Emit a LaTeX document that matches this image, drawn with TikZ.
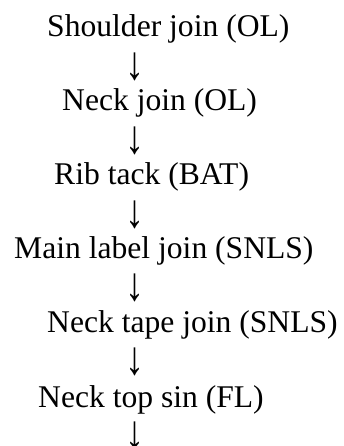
\documentclass[tikz,border=0pt]{standalone}
\usepackage{fontspec}
\setmainfont{Liberation Serif}
\begin{document}
\begin{tikzpicture}[x=1pt,y=-1pt,
  lbl/.style={anchor=base west,inner sep=0pt,font=\fontsize{31.6}{37}\selectfont},
  arr/.style={anchor=base,inner sep=0pt,font=\fontsize{31.6}{37}\selectfont}]
\useasboundingbox (0,0) rectangle (343,446);
\newcommand{\dnarrow}{\scalebox{1.2}[1.5]{↓}}
\node[lbl] (s1) at (47,37) {Shoulder join (OL)};
\node[arr] (a1) at (135,80) {\dnarrow};
\node[lbl] (s2) at (62,110.5) {Neck join (OL)};
\node[arr] (a2) at (135,153.5) {\dnarrow};
\node[lbl] (s3) at (54,184.5) {Rib tack (BAT)};
\node[arr] (a3) at (135,227) {\dnarrow};
\node[lbl] (s4) at (14,258.5) {Main label join (SNLS)};
\node[arr] (a4) at (135,300.5) {\dnarrow};
\node[lbl] (s5) at (47,332.5) {Neck tape join (SNLS)};
\node[arr] (a5) at (135,374) {\dnarrow};
\node[lbl] (s6) at (38,407) {Neck top sin (FL)};
\node[arr] (a6) at (135,448) {\dnarrow};
\end{tikzpicture}
\end{document}
